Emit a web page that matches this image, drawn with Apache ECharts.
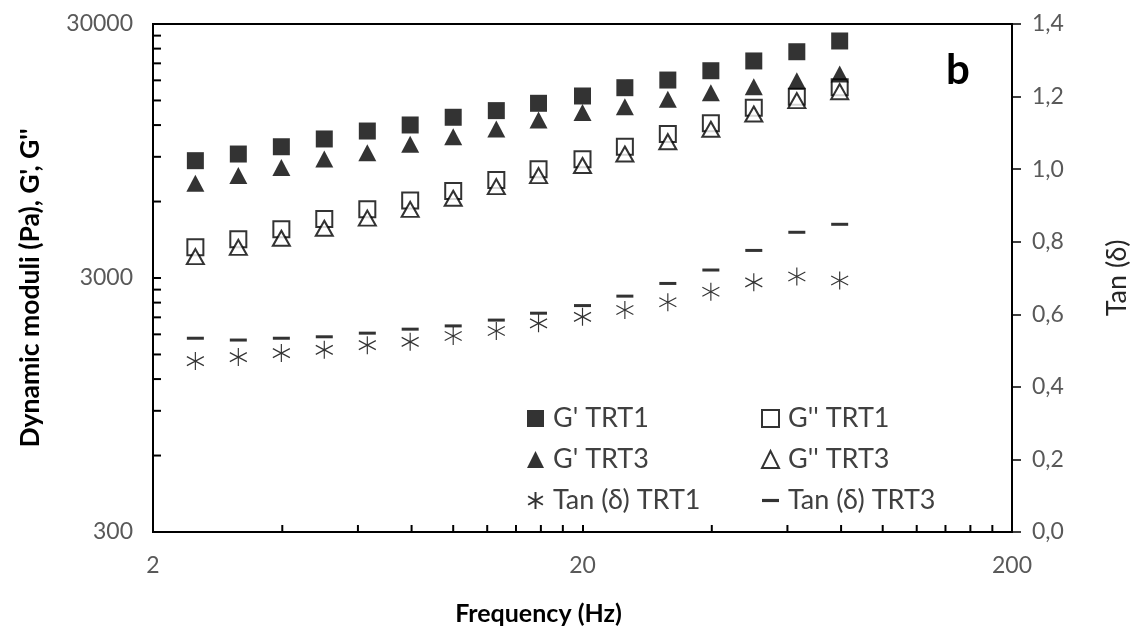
<!DOCTYPE html>
<html>
<head>
<meta charset="utf-8">
<title>Dynamic moduli</title>
<script src="https://cdn.jsdelivr.net/npm/echarts@6/dist/echarts.min.js"></script>
<style>
    html, body { margin: 0; padding: 0; background: #fff; }
    #chart { width: 1139px; height: 637px; }
</style>
</head>
<body>
<div id="chart"></div>
<script>
    // frequency (Hz)
    var freq = [2.51, 3.16, 3.98, 5.01, 6.31, 7.94, 10, 12.6, 15.8, 20, 25.1, 31.6, 39.8, 50.1, 63.1, 79.4];
    // G' / G'' (Pa)
    var gp1  = [8690, 9230, 9860, 10580, 11370, 12010, 12880, 13680, 14620, 15620, 16840, 18050, 19640, 21460, 23330, 25720];
    var gpp1 = [3960, 4260, 4670, 5120, 5590, 6050, 6600, 7290, 8040, 8800, 9860, 11070, 12200, 14050, 15520, 16900];
    var gp3  = [7080, 7590, 8160, 8820, 9340, 10080, 10800, 11580, 12560, 13450, 14180, 15160, 16090, 16990, 17940, 19070];
    var gpp3 = [3640, 3960, 4300, 4710, 5160, 5590, 6180, 6870, 7590, 8320, 9230, 10320, 11550, 13270, 14970, 16240];
    // tan(delta)
    var tan1 = [0.471, 0.482, 0.493, 0.502, 0.515, 0.524, 0.540, 0.554, 0.575, 0.593, 0.612, 0.633, 0.662, 0.688, 0.704, 0.693];
    var tan3 = [0.534, 0.529, 0.534, 0.538, 0.548, 0.559, 0.568, 0.584, 0.603, 0.624, 0.650, 0.685, 0.722, 0.776, 0.826, 0.848];

    // axis ranges / ticks
    var xRange = [2, 200];
    var yRange = [300, 30000];
    var tanRange = [0, 1.4];
    var tanStep = 0.2;
    var xMinor = [4, 6, 8, 10, 12, 14, 16, 18, 40, 60, 80, 100, 120, 140, 160, 180];
    var yMinor = [600, 900, 1200, 1500, 1800, 2100, 2400, 2700, 6000, 9000, 12000, 15000, 18000, 21000, 24000, 27000];

    var FONT = 'Lato, "Liberation Sans", sans-serif';

    // both log axes are drawn as decades counted from the axis start
    function lx(f) { return Math.log10(f / xRange[0]); }
    function ly(v) { return Math.log10(v / yRange[0]); }
    function pairs(ys, fy) {
        return freq.map(function (f, i) { return [lx(f), fy(ys[i])]; });
    }
    function same(v) { return v; }

    var asterisk = 'path://M8,0 L8,17 M0.6,4.25 L15.4,12.75 M0.6,12.75 L15.4,4.25';

    function renderChart() {
        var chart = echarts.init(document.getElementById('chart'));
        var legendText = { fontFamily: FONT, fontSize: 27, color: '#404040', padding: [0, 0, 0, 4] };
        var option = {
            animation: false,
            backgroundColor: '#fff',
            grid: {
                show: true,
                left: 153, right: 125, top: 24, bottom: 105,
                borderColor: '#000', borderWidth: 2
            },
            xAxis: {
                type: 'value',
                min: lx(xRange[0]), max: lx(xRange[1]), interval: 1,
                name: 'Frequency (Hz)',
                nameLocation: 'middle', nameGap: 69,
                nameTextStyle: {
                    fontFamily: FONT, fontWeight: 'bold', fontSize: 25, color: '#000',
                    padding: [0, 88, 0, 0]
                },
                axisLine: { lineStyle: { color: '#000', width: 2 } },
                axisTick: { inside: true, length: 7, lineStyle: { color: '#000', width: 2 } },
                splitLine: { show: false },
                axisLabel: {
                    margin: 22, fontFamily: FONT, fontSize: 23, color: '#595959',
                    formatter: function (v) { return Math.round(xRange[0] * Math.pow(10, v)); }
                }
            },
            yAxis: [
                {
                    type: 'value',
                    min: ly(yRange[0]), max: ly(yRange[1]), interval: 1,
                    name: "Dynamic moduli (Pa), G', G''",
                    nameLocation: 'middle', nameGap: 109,
                    nameTextStyle: {
                        fontFamily: FONT, fontWeight: 'bold', fontSize: 26.5, color: '#000',
                        padding: [0, 20, 0, 0]
                    },
                    axisLine: { show: true, lineStyle: { color: '#000', width: 2 } },
                    axisTick: { inside: true, length: 8, lineStyle: { color: '#000', width: 2 } },
                    splitLine: { show: false },
                    axisLabel: {
                        margin: 20, fontFamily: FONT, fontSize: 23, color: '#595959',
                        formatter: function (v) { return Math.round(yRange[0] * Math.pow(10, v)); }
                    }
                },
                {
                    type: 'value', position: 'right',
                    min: tanRange[0], max: tanRange[1], interval: tanStep,
                    name: 'Tan (δ)',
                    nameLocation: 'middle', nameGap: 92,
                    nameTextStyle: { fontFamily: FONT, fontSize: 27, color: '#262626' },
                    axisLine: { show: true, lineStyle: { color: '#000', width: 2 } },
                    axisTick: { show: true, length: 9, lineStyle: { color: '#000', width: 1.5 } },
                    splitLine: { show: false },
                    axisLabel: {
                        margin: 20, fontFamily: FONT, fontSize: 23, color: '#595959',
                        formatter: function (v) { return v.toFixed(1).replace('.', ','); }
                    }
                }
            ],
            legend: [
                {
                    orient: 'vertical', left: 522, top: 400,
                    itemWidth: 17, itemHeight: 17, itemGap: 14,
                    textStyle: legendText,
                    data: ["G' TRT1", "G' TRT3", 'Tan (δ) TRT1']
                },
                {
                    orient: 'vertical', left: 756, top: 400,
                    itemWidth: 17, itemHeight: 17, itemGap: 14,
                    textStyle: legendText,
                    data: ["G'' TRT1", "G'' TRT3", { name: 'Tan (δ) TRT3', icon: 'path://M0,0 H16 V3 H0 Z' }]
                }
            ],
            graphic: [
                {
                    type: 'text', left: 946, top: 49,
                    style: { text: 'b', fontFamily: FONT, fontWeight: 'bold', fontSize: 42, fill: '#000' }
                }
            ],
            series: [
                {
                    name: "G' TRT1", type: 'scatter', data: pairs(gp1, ly),
                    symbol: 'rect', symbolSize: 17,
                    itemStyle: { color: '#000' }
                },
                {
                    name: "G'' TRT1", type: 'scatter', data: pairs(gpp1, ly),
                    symbol: 'rect', symbolSize: 16,
                    itemStyle: { color: '#fff', borderColor: '#000', borderWidth: 2 }
                },
                {
                    name: "G' TRT3", type: 'scatter', data: pairs(gp3, ly),
                    symbol: 'triangle', symbolSize: [18, 17],
                    itemStyle: { color: '#000' }
                },
                {
                    name: "G'' TRT3", type: 'scatter', data: pairs(gpp3, ly),
                    symbol: 'triangle', symbolSize: [17, 15],
                    itemStyle: { color: '#fff', borderColor: '#000', borderWidth: 2 }
                },
                {
                    name: 'Tan (δ) TRT1', type: 'scatter', yAxisIndex: 1, data: pairs(tan1, same),
                    symbol: asterisk, symbolSize: [17, 18],
                    itemStyle: { color: '#000', borderColor: '#000', borderWidth: 1.2 }
                },
                {
                    name: 'Tan (δ) TRT3', type: 'scatter', yAxisIndex: 1, data: pairs(tan3, same),
                    symbol: 'rect', symbolSize: [17, 3],
                    itemStyle: { color: '#000' }
                }
            ]
        };
        chart.setOption(option);

        // minor ticks of the two log axes (inside the plot)
        var left = chart.convertToPixel({ xAxisIndex: 0 }, lx(xRange[0]));
        var bottom = chart.convertToPixel({ yAxisIndex: 0 }, ly(yRange[0]));
        var ticks = [];
        xMinor.forEach(function (f) {
            var px = chart.convertToPixel({ xAxisIndex: 0 }, lx(f));
            ticks.push({ type: 'line', shape: { x1: px, y1: bottom, x2: px, y2: bottom - 7 },
                style: { stroke: '#000', lineWidth: 2 } });
        });
        yMinor.forEach(function (v) {
            var py = chart.convertToPixel({ yAxisIndex: 0 }, ly(v));
            ticks.push({ type: 'line', shape: { x1: left, y1: py, x2: left + 8, y2: py },
                style: { stroke: '#000', lineWidth: 2 } });
        });
        chart.setOption({ graphic: option.graphic.concat(ticks) });
    }

    renderChart();
</script>
</body>
</html>
